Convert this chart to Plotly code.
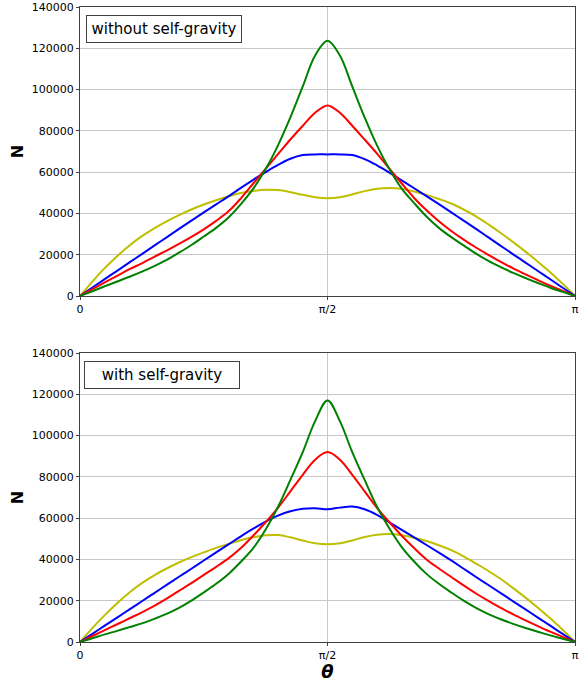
import math
import plotly.graph_objects as go

# theta in units of pi (uniform grid, step 1/40)
theta_frac = [0, .025, .05, .075, .1, .125, .15, .175, .2, .225, .25, .275, .3, .325, .35, .375, .4,
              .425, .45, .475, .5, .525, .55, .575, .6, .625, .65, .675, .7, .725, .75, .775, .8,
              .825, .85, .875, .9, .925, .95, .975, 1]

# without self-gravity
top_yellow = [0, 7000, 13500, 19300, 24500, 29000, 32800, 36200, 39200, 41900, 44300, 46400, 48300, 49900,
              50900, 51500, 51300, 50300, 49000, 47800, 47300, 47800, 49200, 50800, 51900, 52300, 51900,
              50600, 49000, 47000, 44800, 41900, 38600, 34700, 30500, 26100, 21500, 16600, 11500, 5900, 0]
top_blue = [0, 4100, 8200, 12200, 16300, 20300, 24400, 28400, 32500, 36500, 40500, 44400, 48300, 52400,
            56300, 60000, 63500, 66500, 68300, 68600, 68600, 68600, 68300, 66300, 63300, 59800, 56000,
            52200, 48400, 44500, 40500, 36500, 32500, 28400, 24300, 20200, 16200, 12100, 8100, 4000, 0]
top_red = [0, 3300, 6600, 9800, 13000, 15800, 19000, 22000, 25200, 28600, 32300, 36400, 41000, 47300,
           54500, 61600, 68700, 75800, 82500, 88800, 92300, 88800, 82500, 75800, 69000, 61700, 54500,
           47500, 41500, 36200, 31500, 27300, 23500, 19900, 16500, 13400, 10500, 7700, 5000, 2500, 0]
top_green = [0, 2300, 4700, 7000, 9300, 11800, 14500, 17500, 21000, 24700, 28800, 33000, 38000, 44500,
             52000, 61500, 73000, 86500, 101500, 116500, 123600, 116500, 101500, 86500, 73000, 61500,
             52000, 45000, 38500, 33000, 28500, 24500, 20500, 17000, 14000, 11200, 8700, 6300, 4000, 2000, 0]

# with self-gravity
bot_yellow = [0, 6700, 13000, 18800, 24000, 28500, 32300, 35600, 38500, 41100, 43400, 45600, 47500, 49300,
              50700, 51700, 51800, 50700, 49200, 47800, 47300, 47800, 49200, 50900, 52000, 52300, 51700,
              50500, 48900, 46900, 44500, 41500, 38000, 34400, 30500, 26100, 21500, 16600, 11500, 5900, 0]
bot_blue = [0, 3950, 7900, 11850, 15800, 19750, 23700, 27650, 31600, 35500, 39500, 43400, 47300, 51200,
            54900, 58300, 61200, 63300, 64500, 64800, 64300, 65100, 65600, 64300, 61600, 58000, 54300,
            50700, 47000, 43300, 39500, 35500, 31500, 27600, 23700, 19700, 15800, 11800, 7900, 3900, 0]
bot_red = [0, 2900, 5800, 8600, 11500, 14400, 17500, 21000, 24800, 28500, 32500, 36400, 40500, 45500,
           51500, 58000, 65000, 73000, 81000, 88300, 92000, 88300, 81000, 73000, 65000, 58000, 51500,
           45500, 40000, 35600, 31500, 27400, 23500, 19900, 16500, 13400, 10500, 7700, 5000, 2500, 0]
bot_green = [0, 1800, 3700, 5400, 7200, 9000, 11200, 13600, 16500, 20000, 24000, 28200, 33000, 38900,
             45500, 54500, 65500, 78500, 92000, 107000, 117000, 107000, 92000, 78500, 65500, 55000, 46000,
             39000, 33000, 28200, 24000, 20000, 16500, 13500, 11000, 8800, 6800, 5000, 3200, 1600, 0]

panel_titles = ["without self-gravity", "with self-gravity"]
x_tick_labels = ["0", "π/2", "π"]
y_ticks = [0, 20000, 40000, 60000, 80000, 100000, 120000, 140000]

colors = {"yellow": "#bfbf00", "blue": "#0000ff", "red": "#ff0000", "green": "#008000"}

theta = [f * math.pi for f in theta_frac]

fig = go.Figure()
series = [
    ("x", "y", [("yellow", top_yellow), ("blue", top_blue), ("red", top_red), ("green", top_green)]),
    ("x2", "y2", [("yellow", bot_yellow), ("blue", bot_blue), ("red", bot_red), ("green", bot_green)]),
]
for xa, ya, lst in series:
    for name, vals in lst:
        fig.add_trace(go.Scatter(x=theta, y=vals, mode="lines", xaxis=xa, yaxis=ya,
                                 line=dict(color=colors[name], width=2, shape="spline", smoothing=1.0),
                                 showlegend=False, hoverinfo="skip"))

tickfont = dict(family="DejaVu Sans", size=11, color="black")
axis_common = dict(showline=True, linecolor="#404040", linewidth=1, mirror=True,
                   showgrid=True, gridcolor="#c8c8c8", gridwidth=1, zeroline=False,
                   ticks="outside", ticklen=3, tickcolor="#404040", tickfont=tickfont,
                   automargin=False)

xaxis_common = dict(axis_common, range=[0, math.pi],
                    tickvals=[0, math.pi / 2, math.pi], ticktext=x_tick_labels)
yaxis_common = dict(axis_common, range=[0, 140000], tickvals=y_ticks,
                    ticktext=[str(v) for v in y_ticks])

dom_top = [346 / 635, 1.0]
dom_bot = [0.0, 289 / 635]

title_font = dict(family="DejaVu Sans", size=16, color="black")

fig.update_layout(
    width=586, height=682,
    margin=dict(l=80, r=11, t=7, b=40),
    paper_bgcolor="white", plot_bgcolor="white",
    xaxis=dict(xaxis_common, domain=[0, 1], anchor="y"),
    yaxis=dict(yaxis_common, domain=dom_top, anchor="x",
               title=dict(text="<b>N</b>", font=title_font, standoff=4)),
    xaxis2=dict(xaxis_common, domain=[0, 1], anchor="y2",
                title=dict(text="<b><i>θ</i></b>", font=dict(family="DejaVu Sans", size=18, color="black"), standoff=2)),
    yaxis2=dict(yaxis_common, domain=dom_bot, anchor="x2",
                title=dict(text="<b>N</b>", font=title_font, standoff=4)),
)

for xref, yref, xpos, txt in [("x domain", "y domain", 0.012, panel_titles[0]),
                              ("x2 domain", "y2 domain", 0.008, panel_titles[1])]:
    fig.add_annotation(xref=xref, yref=yref, x=xpos, y=0.972, xanchor="left", yanchor="top",
                       text=txt, showarrow=False, width=146, align="center",
                       font=dict(family="DejaVu Sans", size=15, color="black"),
                       bordercolor="#404040", borderwidth=1, borderpad=4, bgcolor="white")

fig.write_html("out.html")
